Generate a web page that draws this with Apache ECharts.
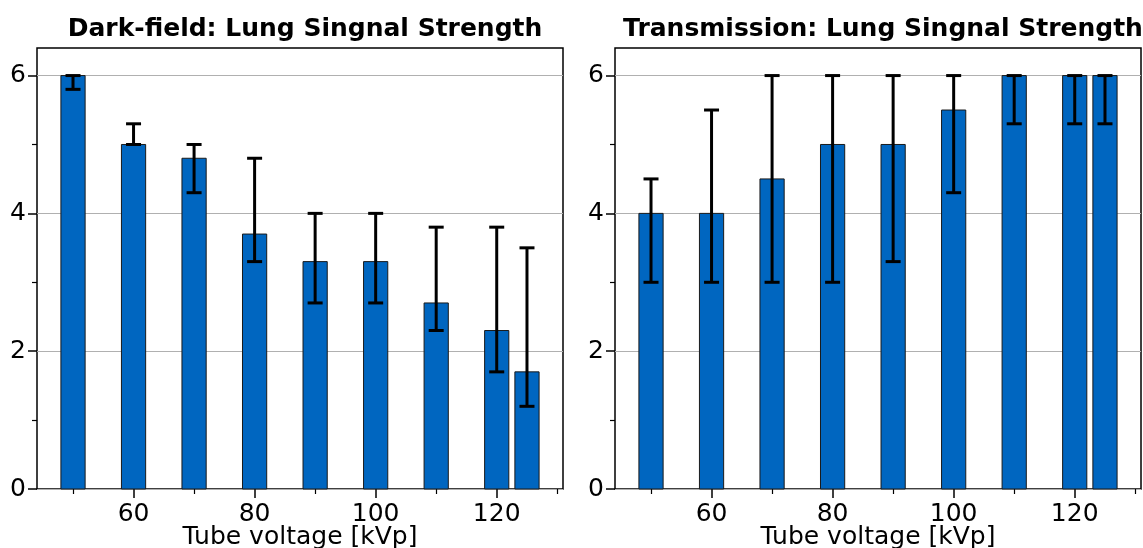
<!DOCTYPE html>
<html>
<head>
<meta charset="utf-8">
<script src="https://cdn.jsdelivr.net/npm/echarts@6/dist/echarts.min.js"></script>
<style>html,body{margin:0;padding:0;background:#fff}#c{width:1143px;height:548px}</style>
</head>
<body>
<div id="c"></div>
<script>
const kvp = [50, 60, 70, 80, 90, 100, 110, 120, 125];
const darkMean = [6, 5, 4.8, 3.7, 3.3, 3.3, 2.7, 2.3, 1.7];
const darkLow  = [5.8, 5, 4.3, 3.3, 2.7, 2.7, 2.3, 1.7, 1.2];
const darkHigh = [6, 5.3, 5, 4.8, 4, 4, 3.8, 3.8, 3.5];
const transMean = [4, 4, 4.5, 5, 5, 5.5, 6, 6, 6];
const transLow  = [3, 3, 3, 3, 3.3, 4.3, 5.3, 5.3, 5.3];
const transHigh = [4.5, 5.5, 6, 6, 6, 6, 6, 6, 6];
const barWidthKvp = 4;
const xMin = 44.05, xMax = 130.95;
const yMin = 0, yMax = 6.4;
const xMajorTicks = [60, 80, 100, 120];
const xMinorTicks = [50, 70, 90, 110, 130];
const yMajorTicks = [0, 2, 4, 6];
const yMinorTicks = [1, 3, 5];
const titles = ['Dark-field: Lung Singnal Strength', 'Transmission: Lung Singnal Strength'];
const xName = 'Tube voltage [kVp]';

const FONT = 'DejaVu Sans';
const BAR_COLOR = '#0066c0';

const chart = echarts.init(document.getElementById('c'), null, {renderer: 'canvas'});

function xAxes(gi) {
  return [
    {
      type: 'value', gridIndex: gi, min: xMin, max: xMax, position: 'bottom',
      name: xName, nameLocation: 'middle', nameGap: 36, nameMoveOverlap: false,
      nameTextStyle: {fontFamily: FONT, fontSize: 25, color: '#000', verticalAlign: 'top'},
      axisLine: {show: false},
      axisTick: {show: true, customValues: xMajorTicks, length: 9, lineStyle: {color: '#000', width: 1.5}},
      axisLabel: {show: true, customValues: xMajorTicks, margin: 13, fontFamily: FONT, fontSize: 25, color: '#000'},
      splitLine: {show: false}
    },
    {
      type: 'value', gridIndex: gi, min: xMin, max: xMax, position: 'bottom',
      axisLine: {show: false},
      axisTick: {show: true, customValues: xMinorTicks, length: 5, lineStyle: {color: '#000', width: 1.2}},
      axisLabel: {show: false},
      splitLine: {show: false}
    }
  ];
}
function yAxes(gi) {
  return [
    {
      type: 'value', gridIndex: gi, min: yMin, max: yMax, interval: 1, position: 'left',
      axisLine: {show: false},
      axisTick: {show: true, customValues: yMajorTicks, length: 9, lineStyle: {color: '#000', width: 1.5}},
      axisLabel: {show: true, customValues: yMajorTicks, margin: 11, fontFamily: FONT, fontSize: 25, color: '#000'},
      splitLine: {show: true, lineStyle: {color: '#b0b0b0', width: 1.2}}
    },
    {
      type: 'value', gridIndex: gi, min: yMin, max: yMax, position: 'left',
      axisLine: {show: false},
      axisTick: {show: true, customValues: yMinorTicks, length: 5, lineStyle: {color: '#000', width: 1.2}},
      axisLabel: {show: false},
      splitLine: {show: false}
    }
  ];
}

function barSeries(axisIdx, mean) {
  return {
    type: 'custom', xAxisIndex: axisIdx, yAxisIndex: axisIdx, z: 3,
    data: kvp.map((k, i) => [k, mean[i]]),
    renderItem: function (params, api) {
      const x = api.value(0), v = api.value(1);
      const p1 = api.coord([x - barWidthKvp / 2, v]);
      const p2 = api.coord([x + barWidthKvp / 2, 0]);
      return {
        type: 'rect',
        shape: {x: p1[0], y: p1[1], width: p2[0] - p1[0], height: p2[1] - p1[1]},
        style: {fill: BAR_COLOR, stroke: '#1a1a1a', lineWidth: 1}
      };
    }
  };
}
function errSeries(axisIdx, low, high) {
  return {
    type: 'custom', xAxisIndex: axisIdx, yAxisIndex: axisIdx, z: 4,
    data: kvp.map((k, i) => [k, low[i], high[i]]),
    renderItem: function (params, api) {
      const x = api.value(0);
      const pt = api.coord([x, api.value(2)]);
      const pb = api.coord([x, api.value(1)]);
      const cw = 7.5;
      const st = {stroke: '#000', lineWidth: 3};
      return {
        type: 'group',
        children: [
          {type: 'line', shape: {x1: pt[0], y1: pt[1], x2: pb[0], y2: pb[1]}, style: st},
          {type: 'line', shape: {x1: pt[0] - cw, y1: pt[1], x2: pt[0] + cw, y2: pt[1]}, style: st},
          {type: 'line', shape: {x1: pb[0] - cw, y1: pb[1], x2: pb[0] + cw, y2: pb[1]}, style: st}
        ]
      };
    }
  };
}

const option = {
  animation: false,
  backgroundColor: '#fff',
  title: [
    {text: titles[0], left: 300, top: 12, textAlign: 'center',
     textStyle: {fontFamily: FONT, fontSize: 25, fontWeight: 'bold', color: '#000'}},
    {text: titles[1], left: 878, top: 12, textAlign: 'center',
     textStyle: {fontFamily: FONT, fontSize: 25, fontWeight: 'bold', color: '#000'}}
  ],
  grid: [
    {left: 37, right: 1143 - 563, top: 48, bottom: 548 - 489, show: true, borderColor: '#000', borderWidth: 1.5,
     backgroundColor: 'transparent', containLabel: false, outerBoundsMode: 'none'},
    {left: 615, right: 1143 - 1141, top: 48, bottom: 548 - 489, show: true, borderColor: '#000', borderWidth: 1.5,
     backgroundColor: 'transparent', containLabel: false, outerBoundsMode: 'none'}
  ],
  xAxis: [].concat(xAxes(0), xAxes(1)),
  yAxis: [].concat(yAxes(0), yAxes(1)),
  series: [
    barSeries(0, darkMean),
    errSeries(0, darkLow, darkHigh),
    barSeries(2, transMean),
    errSeries(2, transLow, transHigh)
  ]
};
chart.setOption(option);
</script>
</body>
</html>
